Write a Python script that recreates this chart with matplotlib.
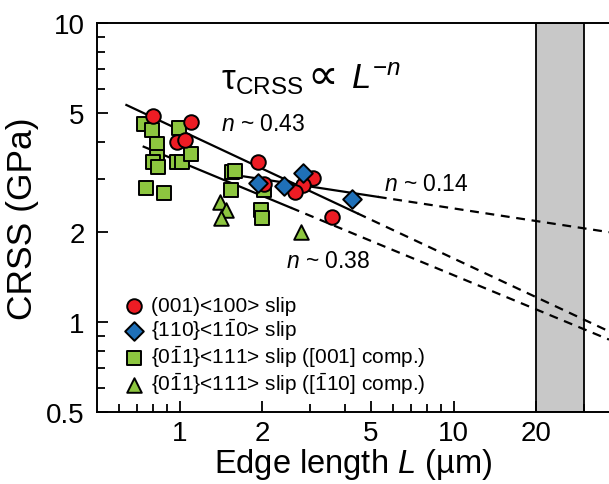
import matplotlib
matplotlib.use('Agg')
import matplotlib.pyplot as plt
from matplotlib.ticker import FixedLocator, NullFormatter
import numpy as np

plt.rcParams['font.family'] = ['Liberation Sans', 'DejaVu Sans']
plt.rcParams['mathtext.fontset'] = 'custom'
plt.rcParams['mathtext.rm'] = 'Liberation Sans'
plt.rcParams['mathtext.it'] = 'Liberation Sans:italic'

# (001)<100> slip
L_001 = [0.80, 1.10, 0.98, 1.05, 1.93, 2.04, 3.08, 2.83, 2.64, 3.59]
tau_001 = [4.90, 4.68, 4.01, 4.06, 3.42, 2.90, 3.03, 2.87, 2.72, 2.24]
# {110}<1-10> slip
L_110 = [1.94, 2.40, 2.82, 4.26]
tau_110 = [2.92, 2.85, 3.16, 2.57]
# {0-11}<111> slip, [001] compression
L_sq = [0.744, 0.791, 0.997, 0.825, 0.825, 0.802, 0.832, 0.983, 1.017, 1.105,
        0.752, 0.877, 1.555, 1.589, 1.545, 2.04, 1.99, 2.00]
tau_sq = [4.58, 4.39, 4.47, 3.93, 3.57, 3.42, 3.30, 3.42, 3.44, 3.66,
          2.81, 2.71, 3.18, 3.19, 2.76, 2.76, 2.36, 2.22]
# {0-11}<111> slip, [-110] compression
L_tri = [1.40, 1.48, 1.42, 2.78]
tau_tri = [2.52, 2.36, 2.22, 2.00]

# power-law fits tau = A * L^-n : (A, n, solid start, solid end)
fits = [(4.39, 0.43, 0.64, 4.47),
        (3.44, 0.38, 0.74, 2.55),
        (3.31, 0.14, 1.72, 5.29)]
fit_labels = ['0.43', '0.38', '0.14']
fit_label_pos = [(1.42, 4.62), (2.45, 1.60), (5.56, 2.90)]

band = (20, 30)
x_max = 36.9

fig = plt.figure(figsize=(6.09, 4.85), dpi=100)
ax = fig.add_axes([0.1593, 0.1485, 1.0 - 0.1593, 0.802])

ax.axvspan(band[0], band[1], facecolor='#c8c8c8', edgecolor='black', lw=1.3, zorder=0)

for (A, n, a, b) in fits:
    xs = np.logspace(np.log10(a), np.log10(b), 50)
    ax.plot(xs, A * xs ** (-n), color='black', lw=1.6, zorder=2)
    xd = np.logspace(np.log10(b), np.log10(x_max), 50)
    ax.plot(xd, A * xd ** (-n), color='black', lw=1.6, ls=(0, (4, 3)), zorder=2)

for txt, (x, y) in zip(fit_labels, fit_label_pos):
    ax.text(x, y, r'$n$ ~ ' + txt, fontsize=16.5, ha='left', va='center')

# tau_CRSS ∝ L^-n
ax.text(1.42, 6.05, r'τ$_{\mathrm{CRSS}}$', fontsize=25, ha='left', va='baseline')
ax.text(2.92, 6.05, '∝', fontsize=31, family='DejaVu Sans', ha='left', va='baseline')
ax.text(4.22, 6.05, r'$L^{-n}$', fontsize=25, ha='left', va='baseline')

ax.scatter(L_sq, tau_sq, marker='s', s=100, c='#8dc63f', edgecolors='black',
           linewidths=1.4, zorder=3, label=r'{0$\bar{1}$1}<111> slip ([001] comp.)')
ax.scatter(L_tri, tau_tri, marker='^', s=110, c='#8dc63f', edgecolors='black',
           linewidths=1.4, zorder=3, label=r'{0$\bar{1}$1}<111> slip ([$\bar{1}$10] comp.)')
ax.scatter(L_001, tau_001, marker='o', s=110, c='#ed1c24', edgecolors='black',
           linewidths=1.4, zorder=4, label='(001)<100> slip')
ax.scatter(L_110, tau_110, marker='D', s=90, c='#1f70b8', edgecolors='black',
           linewidths=1.4, zorder=5, label=r'{110}<1$\bar{1}$0> slip')

ax.set_xscale('log')
ax.set_yscale('log')
ax.set_xlim(0.5, x_max)
ax.set_ylim(0.5, 10)

ax.xaxis.set_major_locator(FixedLocator([1, 2, 5, 10, 20]))
ax.xaxis.set_minor_locator(FixedLocator([0.6, 0.7, 0.8, 0.9, 3, 4, 6, 7, 8, 9, 30]))
ax.set_xticklabels(['1', '2', '5', '10', '20'])
ax.xaxis.set_minor_formatter(NullFormatter())
ax.yaxis.set_major_locator(FixedLocator([0.5, 1, 2, 5, 10]))
ax.yaxis.set_minor_locator(FixedLocator([0.6, 0.7, 0.8, 0.9, 3, 4, 6, 7, 8, 9]))
ax.set_yticklabels(['0.5', '1', '2', '5', '10'])
ax.yaxis.set_minor_formatter(NullFormatter())

ax.tick_params(which='both', direction='in', top=False, right=False,
               labelsize=20, width=1.3)
ax.tick_params(which='major', length=8)
ax.tick_params(which='minor', length=6)
ax.tick_params(axis='x', which='major', pad=6)
ax.tick_params(axis='y', which='major', pad=9)
for s in ['left', 'bottom', 'top']:
    ax.spines[s].set_linewidth(1.4)
ax.spines['right'].set_visible(False)

ax.set_xlabel(r'Edge length $L$ (µm)', fontsize=23.5, labelpad=0)
ax.set_ylabel('CRSS (GPa)', fontsize=25.5, labelpad=5)

h, l = ax.get_legend_handles_labels()
order = [2, 3, 0, 1]
ax.legend([h[i] for i in order], [l[i] for i in order], loc='upper left',
          bbox_to_anchor=(0.016, 0.335), frameon=False, fontsize=15,
          handletextpad=0.1, labelspacing=0.05, borderaxespad=0.3,
          handlelength=1.4)

fig.savefig('out.png', dpi=100)
